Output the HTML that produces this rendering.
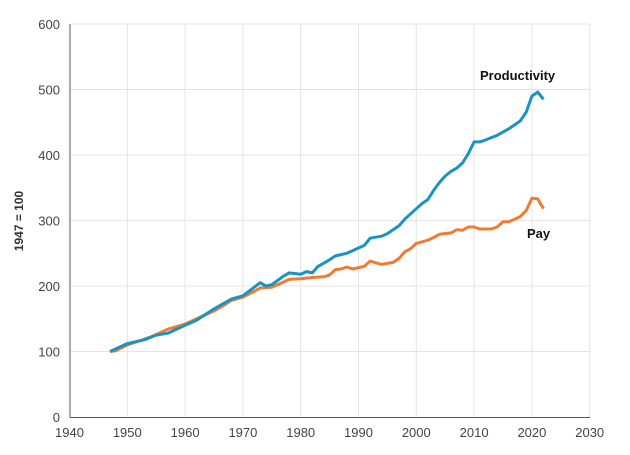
<!DOCTYPE html>
<html><head><meta charset="utf-8"><style>
body{margin:0;background:#fff;width:630px;height:450px;overflow:hidden}
text{font-family:"Liberation Sans",sans-serif}
</style></head><body>
<svg id="s" width="630" height="450" xmlns="http://www.w3.org/2000/svg"></svg>
<script>
const s=document.getElementById('s');
const X=y=>69.5+(y-1940)*5.78, Y=v=>417-v*0.655;
let h='';
for(let v=100;v<=600;v+=100)h+=`<line x1="70" x2="590" y1="${Y(v)}" y2="${Y(v)}" stroke="#e4e4e4" stroke-width="1"/>`;
for(let y=1950;y<=2030;y+=10)h+=`<line x1="${X(y)}" x2="${X(y)}" y1="${Y(600)}" y2="417" stroke="#e4e4e4" stroke-width="1"/>`;
h+=`<line x1="70" x2="70" y1="${Y(600)}" y2="417.5" stroke="#555" stroke-width="1"/>`;
h+=`<line x1="70" x2="590" y1="417.5" y2="417.5" stroke="#555" stroke-width="1"/>`;
for(let v=0;v<=600;v+=100)h+=`<text x="60" y="${Y(v)+5}" text-anchor="end" font-size="13" fill="#444">${v}</text>`;
for(let y=1940;y<=2030;y+=10)h+=`<text x="${X(y)}" y="437" text-anchor="middle" font-size="13" fill="#444">${y}</text>`;
h+=`<text transform="translate(23,221) rotate(-90)" text-anchor="middle" font-size="12" font-weight="bold" fill="#333">1947 = 100</text>`;
const P=[[1947,100],[1950,112],[1953,118],[1955,125],[1957,128],[1960,140],[1962,148],[1965,165],[1968,180],[1970,185],[1973,205],[1974,200],[1975,202],[1977,215],[1978,220],[1980,218],[1981,222],[1982,220],[1983,230],[1985,240],[1986,246],[1988,250],[1990,258],[1991,262],[1992,273],[1994,276],[1995,280],[1997,292],[1998,302],[2000,318],[2001,326],[2002,332],[2003,346],[2004,358],[2005,368],[2006,375],[2007,380],[2008,388],[2009,402],[2010,420],[2011,420],[2012,423],[2014,430],[2016,440],[2017,446],[2018,452],[2019,465],[2020,490],[2021,496],[2022,485]];
const Q=[[1947,100],[1948,101],[1950,110],[1952,116],[1954,122],[1955,126],[1957,134],[1960,142],[1962,150],[1965,162],[1967,172],[1968,178],[1970,183],[1972,192],[1973,197],[1975,198],[1977,206],[1978,210],[1980,211],[1982,213],[1984,214],[1985,217],[1986,225],[1987,226],[1988,229],[1989,226],[1991,230],[1992,238],[1994,233],[1996,236],[1997,242],[1998,252],[1999,257],[2000,265],[2002,270],[2003,274],[2004,279],[2006,281],[2007,286],[2008,285],[2009,290],[2010,290],[2011,287],[2013,287],[2014,290],[2015,298],[2016,298],[2017,302],[2018,306],[2019,315],[2020,334],[2021,333],[2022,318]];
const path=(d,c)=>`<polyline fill="none" stroke="${c}" stroke-width="3" stroke-linejoin="round" points="${d.map(p=>X(p[0]).toFixed(1)+','+Y(p[1]).toFixed(1)).join(' ')}"/>`;
h+=path(Q,'#ee7c35')+path(P,'#1b93c0');
h+=`<text x="480" y="80" font-size="13" font-weight="bold" fill="#111">Productivity</text>`;
h+=`<text x="527" y="238" font-size="13" font-weight="bold" fill="#111">Pay</text>`;
s.innerHTML=h;
</script>
</body></html>
